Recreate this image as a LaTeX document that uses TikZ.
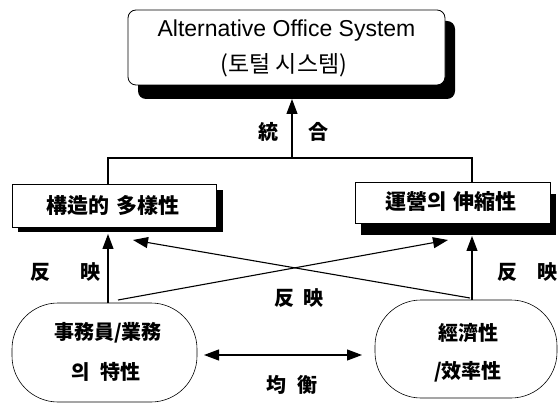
\documentclass[tikz,border=0pt]{standalone}
\usepackage{fontspec}
\setmainfont{Liberation Sans}
\newfontfamily\cjk{Noto Sans CJK KR}
\usetikzlibrary{arrows.meta}
\begin{document}
\begin{tikzpicture}[x=1pt,y=-1pt,
  box/.style={draw,line width=0.8pt,fill=white},
  shadowbox/.style={fill=black},
  oval/.style={draw,line width=0.6pt,fill=white},
  conn/.style={line width=1.1pt},
  arr/.style={line width=1.1pt,-{Triangle[length=15pt,width=11pt]}},
  darr/.style={line width=1.1pt,{Triangle[length=15pt,width=11pt]}-{Triangle[length=15pt,width=11pt]}},
  lbl/.style={font=\cjk\bfseries\fontsize{20}{22}\selectfont,inner sep=0pt},
  btxt/.style={font=\cjk\bfseries\fontsize{20}{22}\selectfont,inner sep=0pt},
  boxtxt/.style={font=\cjk\bfseries\fontsize{21}{23}\selectfont,inner sep=0pt}]
\useasboundingbox (0,0) rectangle (559,403);
% top box
\fill[shadowbox,rounded corners=8pt] (138,21) rectangle (455,99);
\draw[box,rounded corners=8pt] (128,10) rectangle (445,85);
\node[inner sep=0pt,font=\fontsize{23}{25}\selectfont] (t1) at (286.5,31) {Alternative Office System};
\node[inner sep=0pt,font=\cjk\fontsize{23}{25}\selectfont] (t2) at (284,65) {(토털 시스템)};
\coordinate (topS) at (292,99);
% left box
\fill[shadowbox] (18,190) rectangle (223,232);
\draw[box] (12,184) rectangle (216,227);
\node[boxtxt] (lb) at (113,205) {構造的\hspace{7pt}多樣性};
\coordinate (lbTop) at (108,184);
\coordinate (lbS) at (108,234);
\coordinate (lbD) at (133,240);
% right box
\fill[shadowbox] (361,194) rectangle (556,235);
\draw[box] (355,182) rectangle (550,223);
\node[boxtxt] (rb) at (451,202) {運營의\hspace{7pt}伸縮性};
\coordinate (rbTop) at (472,182);
\coordinate (rbS) at (472,236);
\coordinate (rbD) at (448,240);
% junction
\coordinate (J) at (292,158);
\coordinate (JL) at (108,158);
\coordinate (JR) at (472,158);
\draw[conn] (lbTop) -- (JL) -- (JR) -- (rbTop);
\draw[arr] (J) -- (topS);
\node[lbl] (u1) at (268,132) {統};
\node[lbl] (u2) at (318,132) {合};
% bottom shapes
\draw[oval,rounded corners=46pt] (12,303) rectangle (197,402);
\node[btxt] (bl1) at (108,333) {事務員/業務};
\node[btxt] (bl2) at (106,372) {의\hspace{10pt}特性};
\draw[oval,rounded corners=46pt] (375,300) rectangle (557,398);
\node[btxt] (br1) at (468,333) {經濟性};
\node[btxt] (br2) at (468,372) {/效率性};
\coordinate (blT) at (108,303);
\coordinate (blD) at (118,300);
\coordinate (brT) at (472,300);
\coordinate (brD) at (470,298);
\draw[arr] (blT) -- (lbS);
\draw[arr] (brT) -- (rbS);
\draw[arr] (blD) -- (rbD);
\draw[arr] (brD) -- (lbD);
\coordinate (dL) at (204,355);
\coordinate (dR) at (362,355);
\draw[darr] (dL) -- (dR);
\node[lbl] (m1) at (40,272) {反};
\node[lbl] (m2) at (90,272) {映};
\node[lbl] (m3) at (284,298) {反};
\node[lbl] (m4) at (313,298) {映};
\node[lbl] (m5) at (507,272) {反};
\node[lbl] (m6) at (547,272) {映};
\node[lbl] (k1) at (276,385) {均};
\node[lbl] (k2) at (307,385) {衡};
\end{tikzpicture}
\end{document}
